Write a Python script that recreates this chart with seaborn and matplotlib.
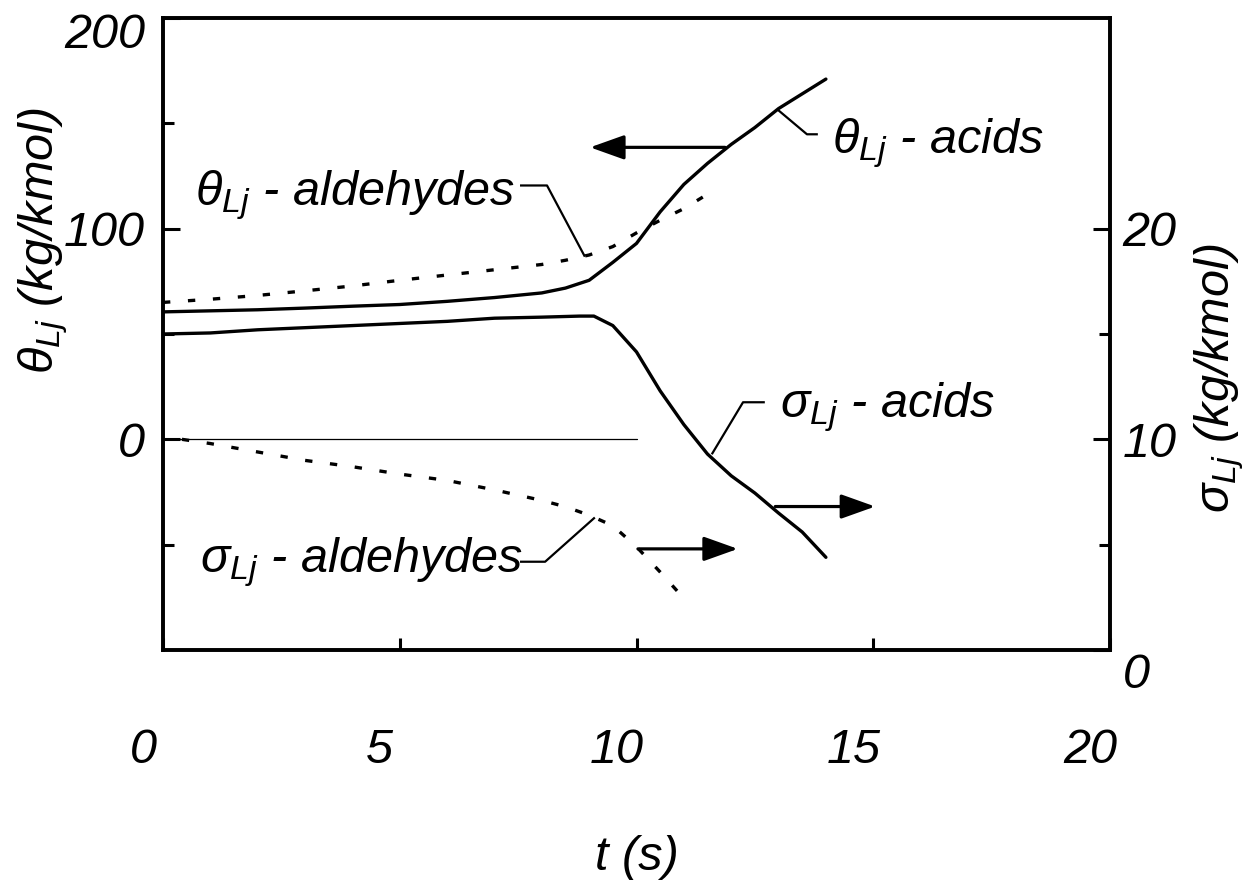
import matplotlib
matplotlib.use("Agg")
import matplotlib.pyplot as plt
import matplotlib.transforms as mtransforms
from matplotlib.ticker import FixedLocator
import seaborn as sns

# ---------------- data ----------------
t_theta_acids = [0, 1, 2, 3, 4, 5, 6, 7, 8, 8.5, 9, 9.5, 10, 10.5, 11, 11.5, 12, 12.5, 13, 13.5, 14]
theta_acids = [60.5, 61, 61.5, 62.3, 63.2, 64, 65.5, 67.3, 69.5, 71.8, 75.5, 84, 93, 108, 121, 131, 140, 148, 157, 164, 171]

t_theta_ald = [0, 1, 2, 3, 4, 5, 6, 7, 8, 8.5, 9, 9.5, 10, 10.5, 11, 11.4]
theta_ald = [65, 66.5, 68.3, 70.5, 72.8, 75.5, 78, 80.5, 83, 85, 87.5, 91.5, 98, 104, 109.5, 115]

t_sigma_acids = [0, 1, 2, 3, 4, 5, 6, 7, 8, 8.8, 9.1, 9.5, 10, 10.5, 11, 11.5, 12, 12.5, 13, 13.5, 14]
sigma_acids = [15.0, 15.05, 15.2, 15.3, 15.4, 15.5, 15.6, 15.75, 15.8, 15.85, 15.85, 15.4, 14.15, 12.3, 10.7, 9.3, 8.27, 7.45, 6.5, 5.6, 4.4]

t_sigma_ald = [0.4, 1, 2, 3, 4, 5, 6, 7, 8, 8.5, 9, 9.5, 10, 10.5, 11]
sigma_ald = [10.0, 9.8, 9.4, 9.0, 8.7, 8.35, 8.05, 7.6, 7.1, 6.8, 6.4, 5.9, 4.9, 3.7, 2.45]

t_zero_line = [0, 10]
theta_zero_line = [0, 0]

x_ticks = [0, 5, 10, 15, 20]
x_ticklabels = ["0", "5", "10", "15", "20"]
theta_major = [0, 100, 200]
theta_minor = [-50, 50, 150]
sigma_major = [0, 10, 20]
sigma_minor = [5, 15]

# ---------------- style ----------------
sns.set_style("white")
plt.rcParams["font.family"] = ["Liberation Sans", "DejaVu Sans"]
plt.rcParams["font.style"] = "italic"
plt.rcParams["mathtext.fontset"] = "custom"
plt.rcParams["mathtext.it"] = "Liberation Sans:italic"
plt.rcParams["mathtext.rm"] = "Liberation Sans:italic"
plt.rcParams["mathtext.default"] = "it"
for key in ("text.color", "axes.labelcolor", "xtick.color", "ytick.color", "axes.edgecolor"):
    plt.rcParams[key] = "black"

FS = 35
LW = 2.4
DOT = (0, (2.2, 5.3))

fig = plt.figure(figsize=(12.6, 8.88), dpi=100)
ax = fig.add_axes([163 / 1260, 1 - 650 / 888, 947 / 1260, 632 / 888])
ax2 = ax.twinx()

# ---------------- curves ----------------
sns.lineplot(x=t_theta_acids, y=theta_acids, ax=ax, color="black", lw=LW, errorbar=None, sort=False)
sns.lineplot(x=t_theta_ald, y=theta_ald, ax=ax, color="black", lw=LW, linestyle=DOT,
             dash_capstyle="butt", errorbar=None, sort=False)
sns.lineplot(x=t_zero_line, y=theta_zero_line, ax=ax, color="black", lw=0.9, errorbar=None, sort=False)
sns.lineplot(x=t_sigma_acids, y=sigma_acids, ax=ax2, color="black", lw=LW, errorbar=None, sort=False)
sns.lineplot(x=t_sigma_ald, y=sigma_ald, ax=ax2, color="black", lw=LW, linestyle=DOT,
             dash_capstyle="butt", errorbar=None, sort=False)

# ---------------- axes ----------------
ax.set_xlim(0, 20)
ax.set_ylim(-100, 200)
ax2.set_ylim(0, 30)

for a in (ax, ax2):
    for s in a.spines.values():
        s.set_linewidth(2.6)
        s.set_color("black")
        s.set_visible(True)

ax.set_xticks(x_ticks)
ax.set_xticklabels(x_ticklabels)
ax.yaxis.set_major_locator(FixedLocator(theta_major))
ax.yaxis.set_minor_locator(FixedLocator(theta_minor))
ax.set_yticklabels([str(v) for v in theta_major])
ax2.yaxis.set_major_locator(FixedLocator(sigma_major))
ax2.yaxis.set_minor_locator(FixedLocator(sigma_minor))
ax2.set_yticklabels([str(v) for v in sigma_major])

ax.tick_params(axis="x", which="both", direction="in", length=9, width=2.2, pad=56,
               labelsize=FS, top=False, bottom=True, colors="black")
ax.tick_params(axis="y", which="major", direction="in", length=12, width=2.2, pad=13,
               labelsize=FS, left=True, right=False, colors="black")
ax.tick_params(axis="y", which="minor", direction="in", length=8, width=2.2, left=True, right=False,
               colors="black")
ax2.tick_params(axis="y", which="major", direction="in", length=12, width=2.2, pad=9,
                labelsize=FS, left=False, right=True, colors="black")
ax2.tick_params(axis="y", which="minor", direction="in", length=8, width=2.2, left=False, right=True,
                colors="black")

ax.set_xlabel("t (s)", fontsize=FS, color="black")
ax.xaxis.set_label_coords(0.5, -0.293)
ax.set_ylabel(r"$\theta_{Lj}$ (kg/kmol)", fontsize=FS, color="black")
ax.yaxis.set_label_coords(-0.098, 0.647)
ax2.set_ylabel(r"$\sigma_{Lj}$ (kg/kmol)", fontsize=FS, rotation=90, color="black")
ax2.yaxis.set_label_coords(1.087, 0.43)

# small offsets of individual tick labels, as in the reference
def shift(label, dx_px, dy_px):
    off = mtransforms.ScaledTranslation(dx_px / 100, dy_px / 100, fig.dpi_scale_trans)
    label.set_transform(label.get_transform() + off)

for lab in ax.get_xticklabels():
    shift(lab, -20, 0)
for lab in ax.get_yticklabels():
    if lab.get_text() == "200":
        shift(lab, 0, -12)
for lab in ax2.get_yticklabels():
    if lab.get_text() == "0":
        shift(lab, 0, -20)

# ---------------- annotations ----------------
arrow_kw = dict(arrowstyle="-|>,head_length=0.7,head_width=0.25", mutation_scale=30,
                lw=2.3, color="black", shrinkA=0, shrinkB=0)
ax.annotate("", xy=(9.02, 138.6), xytext=(11.87, 138.6), arrowprops=arrow_kw)
ax2.annotate("", xy=(12.14, 4.8), xytext=(10.03, 4.8), arrowprops=arrow_kw)
ax2.annotate("", xy=(15.04, 6.81), xytext=(12.93, 6.81), arrowprops=arrow_kw)

lead_kw = dict(color="black", lw=1.6, solid_capstyle="butt")
# theta acids
ax.plot([13.83, 13.6, 12.97], [144.8, 144.8, 156.7], **lead_kw)
ax.text(14.13, 135.7, r"$\theta_{Lj}$ - acids", fontsize=FS, ha="left", va="baseline", color="black")
# theta aldehydes
ax.plot([7.54, 8.11, 8.91], [120.5, 120.5, 86.7], **lead_kw)
ax.text(0.68, 111, r"$\theta_{Lj}$ - aldehydes", fontsize=FS, ha="left", va="baseline", color="black")
# sigma acids
ax2.plot([12.71, 12.25, 11.59], [11.76, 11.76, 9.29], **lead_kw)
ax2.text(13.03, 11.05, r"$\sigma_{Lj}$ - acids", fontsize=FS, ha="left", va="baseline", color="black")
# sigma aldehydes
ax2.plot([7.54, 8.07, 9.12], [4.19, 4.19, 6.29], **lead_kw)
ax2.text(0.78, 3.67, r"$\sigma_{Lj}$ - aldehydes", fontsize=FS, ha="left", va="baseline", color="black")

fig.savefig("out.png", dpi=100, facecolor="white")
